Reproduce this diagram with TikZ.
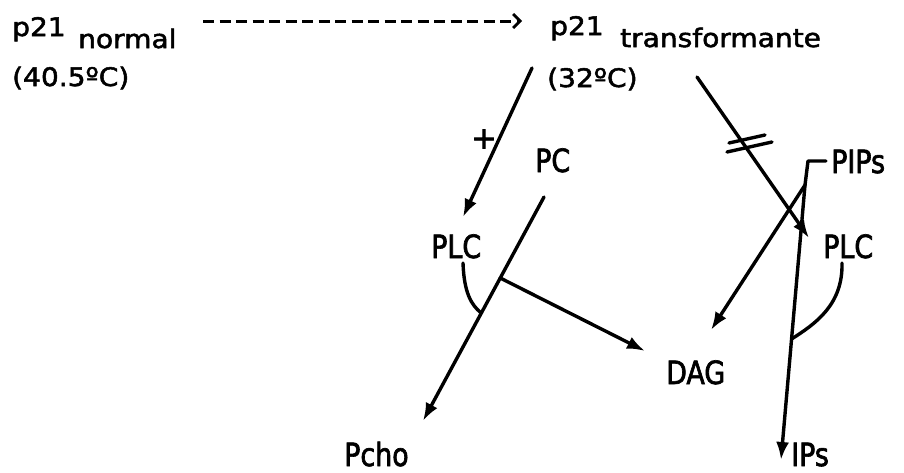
\documentclass[tikz,border=0pt]{standalone}
\usepackage{fontspec}
\setmainfont{DejaVu Sans}
\newfontfamily\topfont[FakeStretch=1.1,FakeBold=2]{DejaVu Sans}
\newfontfamily\labfont[FakeStretch=0.84,FakeBold=2]{DejaVu Sans}
\newfontfamily\plusfont[FakeBold=3]{DejaVu Sans}
\usetikzlibrary{arrows.meta,calc}
\tikzset{
  toptext/.style={inner sep=0pt, anchor=base west, font=\topfont\fontsize{25.5}{28}\selectfont},
  labtext/.style={inner sep=0pt, anchor=base west, font=\labfont\fontsize{32}{35}\selectfont},
  conn/.style={line width=3.4pt, line cap=round, line join=round},
  arr/.style={conn, -{Latex[length=18pt,width=13pt]}},
  dashconn/.style={line width=3pt, dash pattern=on 11pt off 5.5pt, -{Straight Barb[length=7pt,width=14pt,line width=2.8pt]}},
}
\begin{document}
\begin{tikzpicture}[x=1pt,y=-1pt]
\useasboundingbox (0,0) rectangle (904,472);
% top texts
\node[toptext] (pn) at (12,36) {p21};
\node[toptext] (norm) at (78,48) {normal};
\node[toptext] (tn) at (12,86) {(40.5ºC)};
\node[toptext] (pt) at (550,35) {p21};
\node[toptext] (trans) at (620,47) {transformante};
\node[toptext] (tt) at (547,87) {(32ºC)};
% lower labels
\node[labtext] (plcl) at (431,258) {PLC};
\node[labtext] (pc) at (535,172) {PC};
\node[labtext] (dag) at (666,384) {DAG};
\node[labtext] (pcho) at (344,466) {Pcho};
\node[labtext] (pips) at (831,173) {PIPs};
\node[labtext] (plcr) at (823,258) {PLC};
\node[labtext] (ips) at (791,466) {IPs};
\node[inner sep=0pt, font=\plusfont\fontsize{30}{32}\selectfont] (plus) at (484,139) {+};
% coordinates
\coordinate (d1) at (203,21);
\coordinate (d2) at (522,21);
\coordinate (a1) at (532,68);
\coordinate (a2) at (463,217);
\coordinate (b1) at (697,77);
\coordinate (b2) at (809,238);
\coordinate (c1) at (544,197);
\coordinate (c2) at (423,421);
\coordinate (j) at ($(c1)!0.3616!(c2)$);
\coordinate (k) at ($(c1)!0.518!(c2)$);
\coordinate (dagtip) at (645,351);
\coordinate (p0) at (826,161);
\coordinate (p1) at (808,161);
\coordinate (p2) at (805,185);
\coordinate (dagtip2) at (711,330);
\coordinate (ipstip) at (781,460);
\coordinate (m) at ($(p2)!0.56!(ipstip)$);
\coordinate (arcl) at (463,263);
\coordinate (arcr) at (842,263);
% connectors
\draw[dashconn] (d1) -- (d2);
\draw[arr] (a1) -- (a2);
\draw[arr] (b1) -- (b2);
\draw[conn] (727,152) -- (772,142);
\draw[conn] (729,143) -- (765,135);
\draw[arr] (c1) -- (c2);
\draw[arr] (j) -- (dagtip);
\draw[conn] (arcl) .. controls (464,292) and (471,305) .. (k);
\draw[arr] (p0) -- (p1) -- (p2) -- (dagtip2);
\draw[arr] (p2) -- (ipstip);
\draw[conn] (arcr) .. controls (843,305) and (815,324) .. (m);
\end{tikzpicture}
\end{document}
